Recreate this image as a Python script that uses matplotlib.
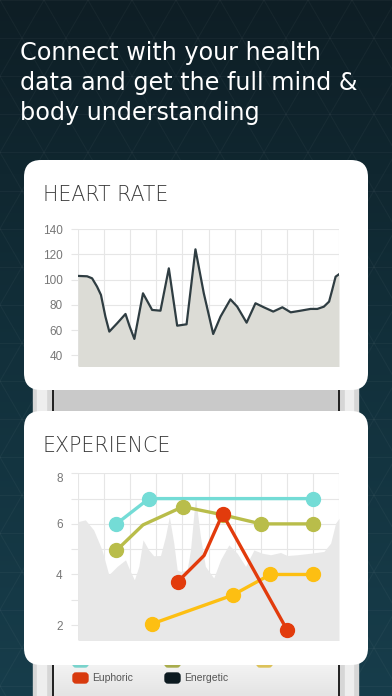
import numpy as np
import matplotlib.pyplot as plt
from matplotlib.patches import FancyBboxPatch, Rectangle
from matplotlib.colors import LinearSegmentedColormap

W, H = 392, 696

# ---- data ----
headline = ["Connect with your health",
            "data and get the full mind &",
            "body understanding"]

hr_x = [0, 0.35, 0.54, 0.73, 0.88, 1.05, 1.2, 1.5, 1.82, 1.98, 2.16, 2.49, 2.84,
        3.16, 3.48, 3.8, 4.16, 4.5, 4.82, 5.18, 5.46, 5.84, 6.1, 6.46, 6.8, 7.12,
        7.48, 7.83, 8.15, 8.53, 8.91, 9.17, 9.42, 9.62, 9.74, 9.87, 10]
hr_bpm = [103, 102.7, 101.1, 94.5, 87.9, 70.7, 58.8, 65.4, 72.8, 62.8, 53, 89.2, 76,
          75.4, 109, 63.5, 64.6, 124.1, 89.2, 56.9, 70.7, 84.4, 78.6, 65.9, 81.3, 78.1,
          74.7, 78.1, 74.1, 75.4, 76.8, 76.8, 78.6, 82.6, 91.9, 102.4, 104.3]
hr_ticks = [40, 60, 80, 100, 120, 140]

exp_bg_x = [0, 0.28, 0.6, 0.92, 1.18, 1.5, 1.82, 1.98, 2.16, 2.33, 2.49, 2.71, 2.9,
            3.16, 3.35, 3.5, 3.67, 3.8, 3.93, 4.18, 4.31, 4.5, 4.69, 4.88, 5.2, 5.46,
            5.78, 6.1, 6.42, 6.74, 7.06, 7.38, 7.76, 8.02, 8.4, 8.91, 9.42, 9.68, 9.87, 10]
exp_bg_y = [6.09, 6.16, 5.76, 4.97, 3.99, 4.32, 4.58, 4.18, 3.79, 4.32, 5.37, 4.97, 4.74,
            4.75, 5.5, 6.29, 5.24, 4.18, 4.12, 4.18, 4.97, 7.08, 5.5, 4.32, 3.86, 4.58,
            5.17, 4.84, 4.32, 4.97, 4.84, 4.78, 4.87, 4.75, 4.78, 4.84, 4.91, 5.24, 6.03, 6.22]

cyan_x = [1.47, 2.72, 9.02]
cyan_y = [6.0, 7.0, 7.0]
olive_x = [1.47, 2.49, 4.02, 5.54, 7.01, 9.02]
olive_y = [4.95, 5.96, 6.68, 6.36, 6.0, 6.0]
olive_marks = [0, 2, 3, 4, 5]
euphoric_x = [3.82, 4.83, 5.54, 8.02]
euphoric_y = [3.71, 4.75, 6.39, 1.79]
euphoric_marks = [0, 2, 3]
yellow_x = [2.84, 5.92, 7.37, 9.02]
yellow_y = [2.05, 3.18, 4.0, 4.0]

exp_ticks = [2, 3, 4, 5, 6, 7, 8]
exp_tick_labels = ['2', '', '4', '', '6', '', '8']

legend_row1 = ['#79d3cc', '#a8ac4c', '#dcc25a']
legend_row2 = [('Euphoric', '#d83a0e'), ('Energetic', '#0c1a20')]


def fig_rect(left, top, right, bottom):
    return [left / W, 1 - bottom / H, (right - left) / W, (bottom - top) / H]


fig = plt.figure(figsize=(W / 100, H / 100), dpi=100)

# ---- background ----
bg = fig.add_axes([0, 0, 1, 1])
bg.set_xlim(0, W)
bg.set_ylim(H, 0)
bg.axis('off')
cmap = LinearSegmentedColormap.from_list('bg', ['#0e1e25', '#12303b', '#173d4b'])
bg.imshow(np.linspace(0, 1, 256).reshape(-1, 1), cmap=cmap, aspect='auto',
          extent=[0, W, H, 0], zorder=0)

# faint triangle pattern
a = 44
h = a * np.sqrt(3) / 2
for k in range(-2, int(H / h) + 3):
    bg.plot([0, W], [k * h, k * h], color='white', alpha=0.035, lw=0.8, zorder=1)
for c in range(-20, 30):
    bg.plot([c * a, c * a + H / np.sqrt(3)], [0, H], color='white', alpha=0.035, lw=0.8, zorder=1)
    bg.plot([c * a, c * a - H / np.sqrt(3)], [0, H], color='white', alpha=0.035, lw=0.8, zorder=1)

for i, line in enumerate(headline):
    bg.text(20, 60 + 30 * i, line, color='white', fontsize=17.2, family='DejaVu Sans',
            ha='left', va='baseline', zorder=5)

# ---- phone behind the cards ----
bg.add_patch(Rectangle((33, 380), 325, 320, color='#d6d6d6', zorder=2))
bg.add_patch(Rectangle((37, 380), 9, 320, color='#eeeeee', zorder=2))
bg.add_patch(Rectangle((345, 380), 8, 320, color='#eeeeee', zorder=2))
bg.add_patch(Rectangle((54, 380), 285, 40, color='#c9c9c9', zorder=2))
screen = LinearSegmentedColormap.from_list('scr', ['#ffffff', '#e4e4e4'])
bg.imshow(np.linspace(0, 1, 64).reshape(-1, 1), cmap=screen, aspect='auto',
          extent=[54, 339, 696, 640], zorder=2)
bg.plot([53.5, 53.5], [380, 696], color='#111111', lw=1.3, zorder=3)
bg.plot([339.5, 339.5], [380, 696], color='#111111', lw=1.3, zorder=3)

# legend peeking out below the experience card
for i, col in enumerate(legend_row1):
    bg.add_patch(FancyBboxPatch((73 + 92 * i, 657), 15, 10,
                                boxstyle='round,pad=0,rounding_size=3',
                                color=col, zorder=3))
for i, (name, col) in enumerate(legend_row2):
    bg.add_patch(FancyBboxPatch((73 + 92 * i, 673), 15, 10,
                                boxstyle='round,pad=0,rounding_size=3',
                                color=col, zorder=3))
    bg.text(92 + 92 * i, 678, name, color='#555555', fontsize=7.5,
            family='Liberation Sans', va='center', ha='left', zorder=3)

# ---- cards ----
for top, bottom, title in [(160, 390, 'HEART RATE'), (411, 665, 'EXPERIENCE')]:
    bg.add_patch(FancyBboxPatch((24, top), 344, bottom - top,
                                boxstyle='round,pad=0,rounding_size=17',
                                fc='white', ec='none', zorder=4))
    bg.text(43, top + 41, title, color='#3a3a3a', fontsize=14.8, family='DejaVu Sans',
            fontweight='light', ha='left', va='baseline', zorder=5)


def style_axes(ax):
    ax.patch.set_alpha(0)
    ax.set_axisbelow(True)
    for s in ax.spines.values():
        s.set_visible(False)
    ax.set_xticks(range(11))
    ax.grid(color='#e6e6e6', lw=0.8)
    ax.tick_params(axis='x', length=0, labelbottom=False)
    ax.tick_params(axis='y', length=5, width=0.8, color='#e6e6e6', pad=6,
                   labelsize=8.5, labelcolor='#777777')
    for t in ax.get_yticklabels():
        t.set_family('Liberation Sans')


# ---- heart rate chart ----
ax1 = fig.add_axes(fig_rect(78, 229.3, 339, 366))
ax1.fill_between(hr_x, hr_bpm, 0, color='#dcdcd6', lw=0, zorder=2)
ax1.plot(hr_x, hr_bpm, color='#2f3d42', lw=1.6, solid_joinstyle='round', zorder=3)
ax1.set_xlim(0, 10)
ax1.set_ylim(31.5, 140)
ax1.set_yticks(hr_ticks)
style_axes(ax1)

# ---- experience chart ----
ax2 = fig.add_axes(fig_rect(78, 473.3, 339, 640))
ax2.fill_between(exp_bg_x, exp_bg_y, 0, color='#e8e8e8', lw=0, zorder=2)
mk = dict(marker='o', markersize=10, lw=2.4, solid_joinstyle='round', zorder=3)
ax2.plot(cyan_x, cyan_y, color='#74dcd6', **mk)
ax2.plot(olive_x, olive_y, color='#b9bd4a', markevery=olive_marks, **mk)
ax2.plot(yellow_x, yellow_y, color='#fdbf12', **mk)
ax2.plot(euphoric_x, euphoric_y, color='#e23b0c', markevery=euphoric_marks, **mk)
ax2.set_xlim(0, 10)
ax2.set_ylim(1.41, 8)
ax2.set_yticks(exp_ticks)
ax2.set_yticklabels(exp_tick_labels)
style_axes(ax2)
# the top label sits a little below its gridline in the original
ax2.get_yticklabels()[-1].set_va('top')
for ln in ax2.lines:
    ln.set_clip_on(False)

fig.savefig('out.png', dpi=100)
